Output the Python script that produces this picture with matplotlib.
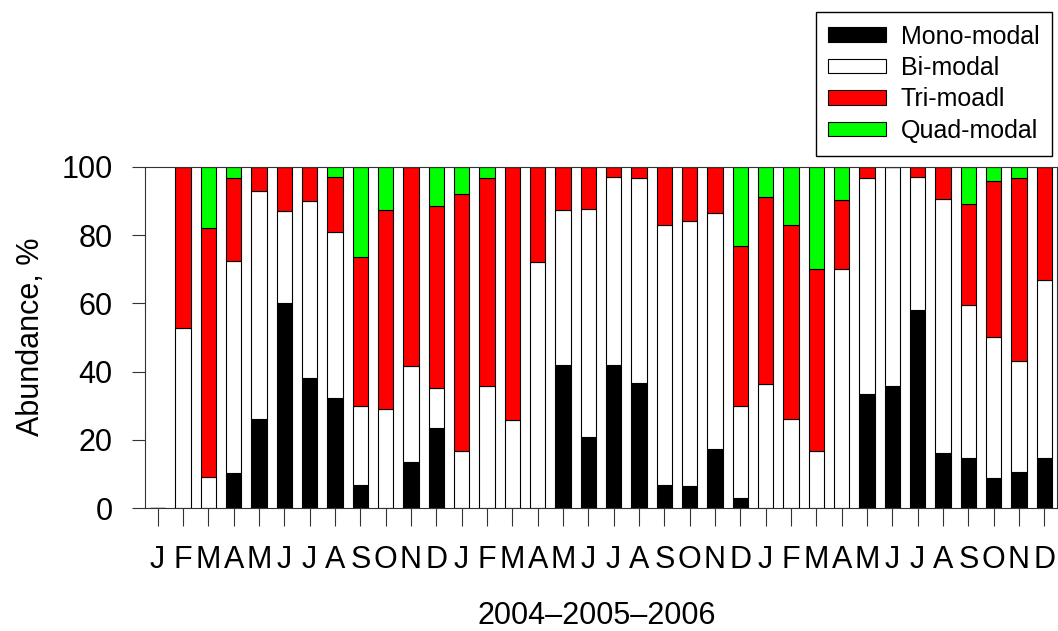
import numpy as np
import matplotlib
matplotlib.use("Agg")
import matplotlib.pyplot as plt
from matplotlib.patches import Patch

plt.rcParams['font.family'] = ['Liberation Sans', 'DejaVu Sans']

months = list("JFMAMJJASOND") * 3

# abundance (%) of each class per month, Jan 2004 .. Dec 2006
mono = [0, 0, 0, 10.4, 26.0, 60.1, 38.0, 32.2, 6.6, 0, 13.6, 23.4,
        0, 0, 0, 0, 41.9, 20.8, 41.9, 36.7, 6.7, 6.4, 17.2, 3.0,
        0, 0, 0, 0, 33.3, 35.7, 58.0, 16.1, 14.8, 8.9, 10.7, 14.6]
bi = [0, 52.7, 9.0, 62.1, 66.9, 27.0, 52.0, 48.7, 23.4, 29.1, 27.9, 11.9,
      16.6, 35.7, 25.9, 72.2, 45.5, 66.9, 55.2, 60.2, 76.3, 77.7, 69.4, 27.0,
      36.3, 26.0, 16.6, 70.2, 63.6, 64.3, 39.1, 74.5, 44.7, 41.2, 32.3, 52.3]
tri = [0, 47.3, 73.2, 24.4, 7.1, 12.9, 10.0, 16.3, 43.5, 58.4, 58.5, 53.2,
       75.4, 61.1, 74.1, 27.8, 12.6, 12.3, 2.9, 3.1, 17.0, 15.9, 13.4, 46.9,
       54.9, 56.9, 53.6, 20.1, 3.1, 0, 2.9, 9.4, 29.7, 45.7, 53.8, 33.1]
quad = [0, 0, 17.8, 3.1, 0, 0, 0, 2.8, 26.5, 12.5, 0, 11.5,
        8.0, 3.2, 0, 0, 0, 0, 0, 0, 0, 0, 0, 23.1,
        8.8, 17.1, 29.8, 9.7, 0, 0, 0, 0, 10.8, 4.2, 3.2, 0]

labels = ["Mono-modal", "Bi-modal", "Tri-moadl", "Quad-modal"]
colors = ["black", "white", "#ff0000", "#00ff00"]

fig = plt.figure(figsize=(10.58, 6.31), dpi=100)
ax = fig.add_axes([145 / 1058, 1 - 508 / 631, 912 / 1058, 341 / 631])

x = np.arange(len(months))
bottom = np.zeros(len(months))
for vals, col in zip([mono, bi, tri, quad], colors):
    vals = np.array(vals)
    ax.bar(x, vals, width=0.61, bottom=bottom, color=col,
           edgecolor="black", linewidth=0.8)
    bottom += vals

ax.set_xlim(-0.5, 35.5)
ax.set_ylim(0, 100)
ax.set_yticks([0, 20, 40, 60, 80, 100])
ax.set_xticks(x)
ax.set_xticklabels(months)
ax.tick_params(axis="both", labelsize=22, pad=14, width=0.8, color="#333333")
ax.tick_params(axis="x", length=13)
ax.tick_params(axis="y", length=9.3)
for sp in ax.spines.values():
    sp.set_linewidth(0.8)
    sp.set_color("#333333")

fig.text(31 / 1058, 1 - 337 / 631, "Abundance, %", rotation=90,
         ha="center", va="center", fontsize=22)
fig.text(597 / 1058, 1 - 616 / 631, "2004\u20132005\u20132006",
         ha="center", va="center", fontsize=22)

handles = [Patch(facecolor=c, edgecolor="black", linewidth=0.8) for c in colors]
fig.legend(handles, labels, loc="upper right",
           bbox_to_anchor=(1052 / 1058, 1 - 12 / 631),
           fontsize=18, frameon=True, fancybox=False, edgecolor="black",
           framealpha=1, borderaxespad=0, borderpad=0.5, labelspacing=0.3,
           handlelength=2.3, handleheight=0.52, handletextpad=0.6)

fig.savefig("out.png", dpi=100)
